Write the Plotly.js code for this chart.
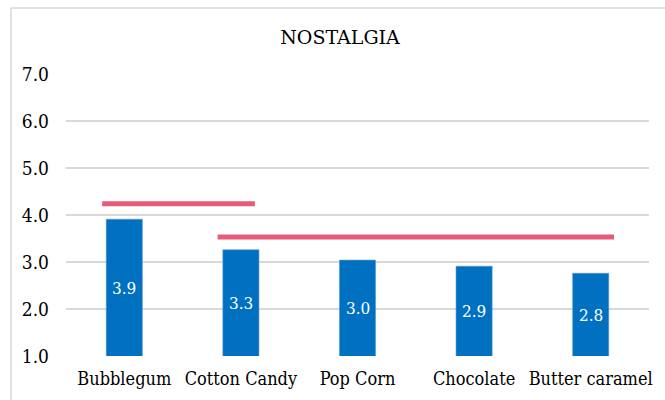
<!DOCTYPE html>
<html>
<head>
<meta charset="utf-8">
<script src="https://cdn.plot.ly/plotly-3.0.1.min.js"></script>
<style>
  html, body { margin: 0; padding: 0; background: #fff; }
  #chart { width: 665px; height: 400px; }
</style>
</head>
<body>
<div id="chart"></div>
<script>
// ---- data ----
const categories = ["Bubblegum", "Cotton Candy", "Pop Corn", "Chocolate", "Butter caramel"];
const scores = [3.91, 3.26, 3.04, 2.91, 2.76];
const yTickValues = [1, 2, 3, 4, 5, 6, 7];
const yTickLabels = ["1.0", "2.0", "3.0", "4.0", "5.0", "6.0", "7.0"];
// significance brackets (category-index units)
const bracketStart = [-0.19, 0.80];
const bracketEnd = [1.12, 4.20];
const bracketLevel = [4.24, 3.53];

// ---- layout geometry ----
const W = 665, H = 400;
const margin = { l: 66, r: 16, t: 74, b: 44 };
const pw = W - margin.l - margin.r, ph = H - margin.t - margin.b;
const px2paperX = px => (px - margin.l) / pw;
const px2paperY = py => 1 - (py - margin.t) / ph;
const yMin = 1, yMax = 7;

const serifC = "'DejaVu Serif Condensed', 'DejaVu Serif', serif";
const serif = "'DejaVu Serif', serif";

const traces = [{
  type: "bar",
  x: categories,
  y: scores,
  width: 0.31,
  marker: { color: "#0070C0", line: { color: "#5B9BD5", width: 0.6 } },
  hoverinfo: "x+y",
  cliponaxis: true
}];

bracketStart.forEach((s, i) => {
  traces.push({
    type: "scatter",
    mode: "lines",
    x: [s, bracketEnd[i]],
    y: [bracketLevel[i], bracketLevel[i]],
    xaxis: "x2",
    yaxis: "y",
    line: { color: "#E85A78", width: 5 },
    hoverinfo: "skip",
    showlegend: false
  });
});

// value labels centred in the visible part of each bar
const labelAnnotations = categories.map((c, i) => ({
  x: c, xref: "x",
  y: (yMin + scores[i]) / 2, yref: "y",
  text: scores[i].toFixed(1),
  showarrow: false,
  font: { family: serifC, size: 17, color: "#ffffff" },
  xanchor: "center", yanchor: "middle"
}));

const layout = {
  width: W, height: H,
  margin: margin,
  paper_bgcolor: "#ffffff",
  plot_bgcolor: "#ffffff",
  showlegend: false,
  bargap: 0.69,
  font: { family: serifC },
  title: {
    text: "NOSTALGIA",
    font: { family: serif, size: 19, color: "#000000" },
    x: 340 / W, xref: "container", xanchor: "center",
    y: 1 - 37 / H, yref: "container", yanchor: "middle"
  },
  xaxis: {
    type: "category",
    range: [-0.5, 4.5],
    showgrid: false,
    zeroline: false,
    showline: false,
    ticks: "",
    ticklabelstandoff: 10,
    tickfont: { family: serifC, size: 18, color: "#000000" },
    fixedrange: true
  },
  xaxis2: {
    type: "linear",
    overlaying: "x",
    range: [-0.5, 4.5],
    visible: false,
    fixedrange: true
  },
  yaxis: {
    range: [yMin, yMax],
    tickvals: yTickValues,
    ticktext: yTickLabels,
    showgrid: true,
    gridcolor: "#D9D9D9",
    gridwidth: 1.5,
    zeroline: false,
    showline: false,
    ticks: "",
    ticklabelstandoff: 16,
    tickfont: { family: serifC, size: 19, color: "#000000" },
    fixedrange: true
  },
  annotations: labelAnnotations,
  shapes: [
    { type: "line", xref: "paper", yref: "paper",
      x0: px2paperX(11), x1: px2paperX(11), y0: px2paperY(8), y1: px2paperY(410),
      line: { color: "#D9D9D9", width: 1.5 } },
    { type: "line", xref: "paper", yref: "paper",
      x0: px2paperX(11), x1: px2paperX(680), y0: px2paperY(8), y1: px2paperY(8),
      line: { color: "#D9D9D9", width: 1.5 } }
  ]
};

Plotly.newPlot("chart", traces, layout, { displayModeBar: false, staticPlot: true });
</script>
</body>
</html>
